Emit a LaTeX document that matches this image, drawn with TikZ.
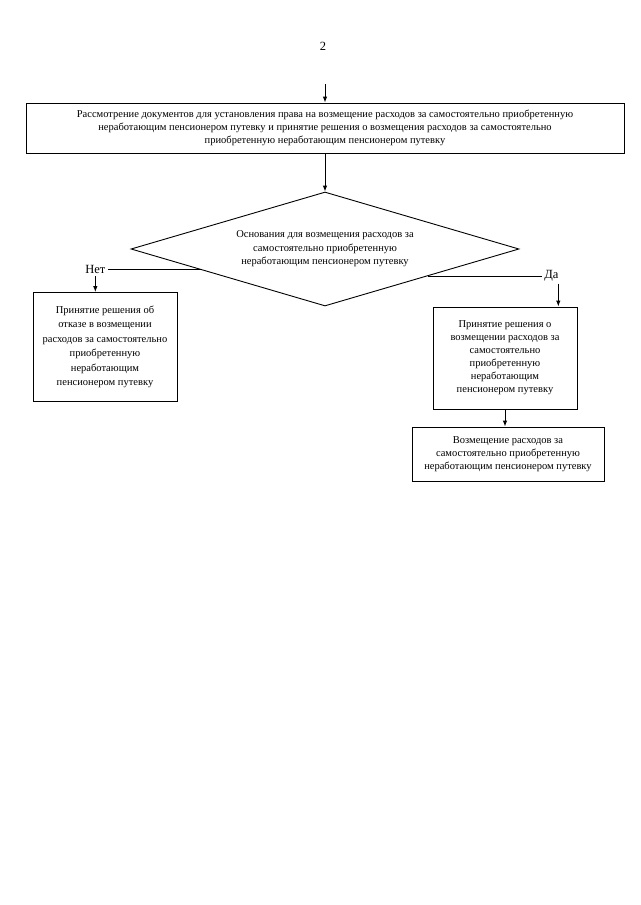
\documentclass[tikz,border=0pt]{standalone}
\usepackage{fontspec}
\setmainfont{Liberation Serif}
\usetikzlibrary{arrows.meta,shapes.geometric,positioning,calc}

\begin{document}
\begin{tikzpicture}[x=1pt,y=-1pt,
  box/.style={draw, line width=0.9pt, align=center, inner sep=2pt,
    font=\fontsize{10.5}{13}\selectfont},
  dia/.style={draw, diamond, aspect=3.4, line width=0.9pt, inner sep=0pt,
    align=center, font=\fontsize{10.5}{13.5}\selectfont},
  lbl/.style={font=\fontsize{12.5}{14}\selectfont, inner sep=2pt},
  arr/.style={-{Latex[length=6pt,width=4.5pt]}, line width=0.9pt}]
\useasboundingbox (0,0) rectangle (640,905);

\node[lbl] (page) at (323,46) {2};

\coordinate (start) at (325,84);
\node[box, minimum width=598, minimum height=50] (rev) at (325,128) {Рассмотрение документов для установления права на возмещение расходов за самостоятельно приобретенную\\
неработающим пенсионером путевку и принятие решения о возмещения расходов за самостоятельно\\
приобретенную неработающим пенсионером путевку};
\draw[arr] (start) -- (rev.north);

\node[dia, minimum width=388, minimum height=114] (osn) at (325,249) {Основания для возмещения расходов за\\
самостоятельно приобретенную\\
неработающим пенсионером путевку};
\draw[arr] (rev.south) -- (osn.north);

\coordinate (nojoin) at ($(osn.west)!0.36!(osn.south)$);
\node[lbl, left=93pt of nojoin] (no) {Нет};
\draw[line width=0.9pt] (nojoin) -- (no.east);

\node[box, minimum width=144, minimum height=109, font=\fontsize{10.5}{14.5}\selectfont] (otk) at (105,347) {Принятие решения об\\
отказе в возмещении\\
расходов за самостоятельно\\
приобретенную\\
неработающим\\
пенсионером путевку};
\draw[arr] (no.south) -- (no.south |- otk.north);

\coordinate (yesjoin) at ($(osn.east)!0.47!(osn.south)$);
\node[lbl, right=114pt of yesjoin] (yes) {Да};
\draw[line width=0.9pt] (yesjoin) -- (yes.west);

\node[box, minimum width=144, minimum height=102] (pri) at (505,358) {Принятие решения о\\
возмещении расходов за\\
самостоятельно\\
приобретенную\\
неработающим\\
пенсионером путевку};
\draw[arr] ([xshift=7pt]yes.south) -- ([xshift=7pt]yes.south |- pri.north);

\node[box, minimum width=192, minimum height=54] (voz) at (508,454) {Возмещение расходов за\\
самостоятельно приобретенную\\
неработающим пенсионером путевку};
\draw[arr] (pri.south) -- (pri.south |- voz.north);
\end{tikzpicture}
\end{document}
